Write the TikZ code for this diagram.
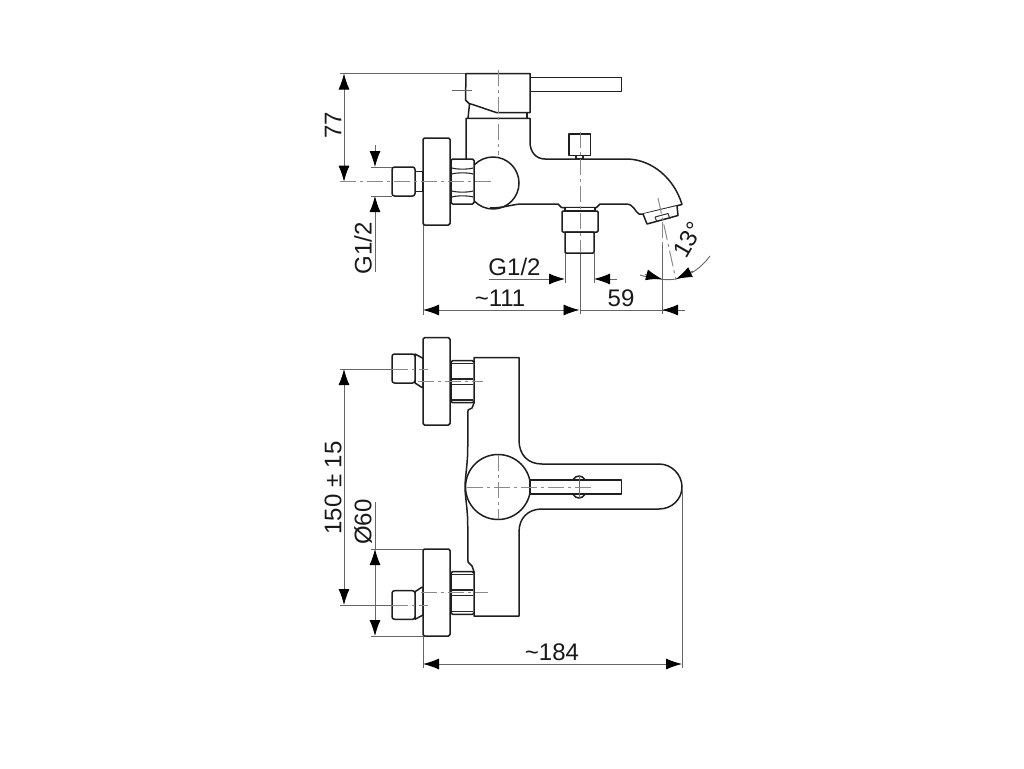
\documentclass[tikz,border=0pt]{standalone}
\usepackage{fontspec}
\setmainfont{Liberation Sans}
\usetikzlibrary{arrows.meta}
\definecolor{dimgray}{HTML}{666666}
\definecolor{axisgray}{HTML}{8A8A8A}
\tikzset{
  part/.style={draw=black!88,line width=1.5pt,line join=round,fill=white},
  edge/.style={draw=black!88,line width=1.5pt,line join=round},
  band/.style={draw=black!85,line width=1.1pt},
  thin part/.style={draw=black!80,line width=1pt},
  dimline/.style={draw=dimgray,line width=0.9pt},
  both tips/.style={dimline,{Latex[length=16pt,width=11pt,black]}-{Latex[length=16pt,width=11pt,black]}},
  end tip/.style={dimline,-{Latex[length=16pt,width=11pt,black]}},
  axis/.style={draw=axisgray,line width=1pt,dash pattern=on 16pt off 4pt on 3pt off 4pt},
  label/.style={font=\fontsize{24}{24}\selectfont,text=black!90,inner sep=0pt},
}
\begin{document}
\begin{tikzpicture}[x=1pt,y=-1pt]
\useasboundingbox (0,0) rectangle (1024,768);

% ---------- named dimension points
\coordinate (t77) at (344,73.5);
\coordinate (b77) at (344,181.7);
\coordinate (gA) at (375,167);
\coordinate (gB) at (375,196);
\coordinate (gAt) at (375,145);
\coordinate (gBt) at (375,272);
\coordinate (d111a) at (423,310);
\coordinate (d111b) at (579.5,310);
\coordinate (d59t) at (662,310);
\coordinate (d59e) at (685,310);
\coordinate (g2a) at (565,279);
\coordinate (g2b) at (594,279);
\coordinate (g2at) at (489,279);
\coordinate (g2bt) at (617,279);
\coordinate (h150a) at (344,369);
\coordinate (h150b) at (344,605);
\coordinate (o60a) at (375,549);
\coordinate (o60b) at (375,636);
\coordinate (o60t) at (375,502);
\coordinate (w184a) at (423,664);
\coordinate (w184b) at (682,664);

% ---------- dimension and extension lines, side view
\draw[dimline] (340,73.5) -- (466,73.5);
\draw[dimline] (371,167) -- (392,167);
\draw[dimline] (371,196) -- (392,196);
\draw[both tips] (t77) -- (b77);
\draw[end tip] (gAt) -- (gA);
\draw[end tip] (gBt) -- (gB);
\draw[dimline] (423,225) -- (423,315);
\draw[dimline] (565,253) -- (565,283);
\draw[dimline] (594,253) -- (594,283);
\draw[dimline] (580,253) -- (580,314);
\draw[dimline] (662,245) -- (662,314);
\draw[end tip] (g2at) -- (g2a);
\draw[end tip] (g2bt) -- (g2b);
\draw[both tips] (d111a) -- (d111b);
\draw[dimline] (d111b) -- (d59e);
\draw[end tip] (d59e) -- (d59t);
% 13 degree arc
\draw[dimline] (640,275) .. controls (655,279.5) and (668,280.5) .. (676,279);
\draw[dimline] (676,279) .. controls (690,276) and (702,267) .. (710,256);
\draw[end tip] (645,274.5) -- (662,279);
\draw[end tip] (693,271) -- (676,279);

% ---------- side view: lever, cap, spout
\draw[part] (530,77.3) rectangle (621.5,91.7);
\draw[part] (466,73.5) -- (530,73.5) -- (530,112.7) -- (497,112.7) .. controls (488,110) and (478,106) .. (469,103.5)
  -- (465.5,100) -- cycle;
\draw[edge] (469.5,104) -- (468,118.3);
\draw[edge] (527,112.7) -- (527,118.3);
% body and spout
\draw[part] (466,160) -- (466,118.3) -- (530,118.3) -- (530,142)
  .. controls (530,152) and (536,159) .. (545,159)
  -- (628,159)
  .. controls (652,160) and (674,178) .. (682,204.5)
  -- (643,214)
  -- (639,214) .. controls (635,212) and (634,204) .. (626,204)
  -- (600,204) -- (596.5,207.5) -- (561.5,207.5) -- (558,204)
  -- (520,204) .. controls (510,205) and (503,208) .. (490,208);
\begin{scope}
\clip (474,150) rectangle (530,215);
\draw[edge] (493,183) circle (26);
\end{scope}
% aerator
\draw[part] (643,214) -- (647,224) -- (678,215.5) -- (677,206);
\draw[thin part] (655,217) -- (668,213.5) -- (670,219);
\draw[thin part] (655,217) -- (656.5,221);
% diverter button
\draw[part] (569,134) rectangle (590.5,155.7);
\draw[band] (576,155.7) rectangle (583,159);
% outlet connector
\draw[part] (565,207.5) rectangle (595,211);
\draw[part,rounded corners=1pt] (562,211) rectangle (598,232);
\draw[part,rounded corners=1pt] (565,232) rectangle (594,253);
% flange, stem and nut
\draw[part,rounded corners=1.5pt] (423,138) rectangle (450,225);
\draw[part] (415,171.7) rectangle (423,191.7);
\draw[part,rounded corners=2.5pt] (392,167) rectangle (415,196);
\draw[part,rounded corners=1.5pt] (451,159) rectangle (474,204);
\draw[band] (452,168) .. controls (456,169.5) and (469,169.5) .. (473,168);
\draw[band] (452,174) .. controls (456,172.5) and (469,172.5) .. (473,174);
\draw[band] (452,191) .. controls (456,192.5) and (469,192.5) .. (473,191);
\draw[band] (452,197) .. controls (456,195.5) and (469,195.5) .. (473,197);
% axes, side view
\draw[dimline] (452,90.7) -- (472,90.7);
\draw[axis] (340,181.7) -- (494,181.7);
\draw[axis] (498,70) -- (498,155);
\draw[axis] (580,132) -- (580,252);
\draw[axis] (658,198) -- (676,280);
\draw[axis] (662,222) -- (662,250);

% ---------- plan view: body
\draw[part] (474,357.7) -- (519,357.7) -- (519,440)
  .. controls (519,455) and (528,464) .. (542,464)
  -- (659,464)
  .. controls (672,464) and (682,475) .. (682,487)
  .. controls (682,499) and (672,509) .. (659,509)
  -- (542,509)
  .. controls (528,509) and (519,518) .. (519,532)
  -- (519,616) -- (474,616) -- (474,571.7)
  -- (472,566) -- (468,562) -- (467.7,520)
  .. controls (467,505) and (465,495) .. (465,487)
  .. controls (465,479) and (467,468) .. (467.7,453)
  -- (468,410) -- (472,408) -- (474,403) -- cycle;
% stems and flanges, upper
\draw[part] (415,354) -- (423,358.3) -- (423,387.3) -- (421.7,387.3) -- (415,383) -- cycle;
\draw[part,rounded corners=2.5pt] (392,354) rectangle (415,383);
\draw[part,rounded corners=1.5pt] (423,337.7) rectangle (450,425);
\draw[part,rounded corners=1.5pt] (451,360.7) rectangle (474,402.7);
\draw[band] (452,363.5) -- (473,363.5);
\draw[band] (452,379) -- (473,379);
\draw[band] (452,384.5) -- (473,384.5);
\draw[band] (452,400) -- (473,400);
% stems and flanges, lower
\draw[part] (415,591.7) -- (421.7,587.3) -- (423,587.3) -- (423,615) -- (415,619.3) -- cycle;
\draw[part,rounded corners=2.5pt] (392,590.7) rectangle (415,619.3);
\draw[part,rounded corners=1.5pt] (423,549) rectangle (450,636);
\draw[part,rounded corners=1.5pt] (451,571.7) rectangle (474,614.3);
\draw[band] (452,574.5) -- (473,574.5);
\draw[band] (452,590) -- (473,590);
\draw[band] (452,595.5) -- (473,595.5);
\draw[band] (452,611.5) -- (473,611.5);
% handle pivot, round cap and lever
\draw[part] (579,487) ellipse (8 and 11);
\draw[part] (498,487) circle (32.5);
\draw[part] (530,480) rectangle (621.7,494);
\draw[dimline] (579,476) -- (579,498);
% axes, plan view
\draw[axis] (498,455) -- (498,519);
\draw[axis] (467,487) -- (591,487);
\draw[axis] (392,369) -- (428,369);
\draw[axis] (418,381.7) -- (483,381.7);
\draw[axis] (392,605) -- (428,605);
\draw[axis] (421,592.7) -- (488,592.7);

% ---------- dimensions, plan view
\draw[dimline] (340,369) -- (392,369);
\draw[dimline] (340,605) -- (392,605);
\draw[dimline] (371,549) -- (423,549);
\draw[dimline] (371,636) -- (423,636);
\draw[dimline] (423,636) -- (423,668);
\draw[dimline] (682,490) -- (682,668);
\draw[both tips] (h150a) -- (h150b);
\draw[dimline] (o60t) -- (o60a);
\draw[both tips] (o60a) -- (o60b);
\draw[both tips] (w184a) -- (w184b);

% ---------- labels
\node[label,rotate=90] (l77) at (333,125) {77};
\node[label,rotate=90] (lg1) at (363,248) {G1/2};
\node[label] (lg2) at (514.5,267) {G1/2};
\node[label] (l111) at (500,298) {\textasciitilde 111};
\node[label] (l59) at (621,298) {59};
\node[label,rotate=60] (l13) at (688,240) {13°};
\node[label,rotate=90] (l150) at (333,488) {150 ± 15};
\node[label,rotate=90] (l60) at (363,522) {Ø60};
\node[label] (l184) at (552,652) {\textasciitilde 184};
\end{tikzpicture}
\end{document}
